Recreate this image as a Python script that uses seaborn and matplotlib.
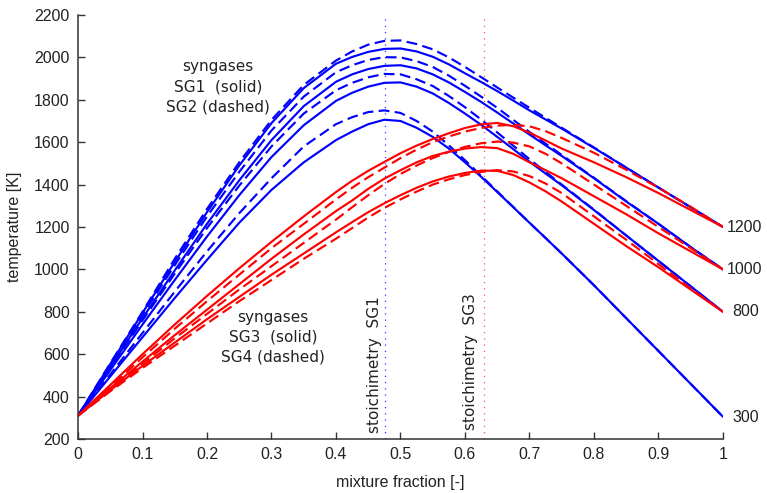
import matplotlib
matplotlib.use("Agg")
import matplotlib.pyplot as plt
import seaborn as sns
import pandas as pd

# ---------------- data ----------------
X = [0.0, 0.05, 0.1, 0.15, 0.2, 0.25, 0.3, 0.35, 0.4, 0.425, 0.45, 0.475, 0.5,
     0.525, 0.55, 0.575, 0.6, 0.625, 0.65, 0.675, 0.7, 0.725, 0.75,
     0.8, 0.85, 0.9, 0.95, 1.0]

# SG1 (blue solid) / SG2 (blue dashed), oxidizer temperatures 300, 800, 1000, 1200 K
SG1_300 = [310, 495, 680, 865, 1045, 1220, 1375, 1505, 1610, 1650, 1685, 1706, 1700,
           1668, 1625, 1570, 1505, 1437, 1365, 1293, 1220, 1148, 1075,
           925, 770, 615, 460, 305]
SG2_300 = [310, 505, 700, 895, 1085, 1265, 1430, 1580, 1685, 1718, 1742, 1750, 1738,
           1700, 1650, 1585, 1515, 1442, 1368, 1294, 1220, 1148, 1075,
           925, 770, 615, 460, 305]
SG1_800 = [310, 525, 740, 950, 1155, 1350, 1530, 1680, 1795, 1833, 1862, 1880, 1882,
           1862, 1830, 1785, 1735, 1682, 1625, 1567, 1508, 1452, 1397,
           1280, 1160, 1040, 920, 800]
SG2_800 = [310, 535, 760, 980, 1195, 1395, 1580, 1735, 1845, 1880, 1906, 1922, 1920,
           1897, 1865, 1818, 1765, 1707, 1646, 1583, 1520, 1460, 1400,
           1282, 1160, 1040, 920, 800]
SG1_1000 = [310, 540, 770, 995, 1215, 1420, 1610, 1770, 1885, 1920, 1945, 1960, 1963,
            1948, 1920, 1882, 1837, 1790, 1740, 1688, 1636, 1585, 1535,
            1430, 1320, 1215, 1105, 1000]
SG2_1000 = [310, 548, 785, 1020, 1250, 1460, 1655, 1815, 1930, 1963, 1988, 2001, 2000,
            1982, 1955, 1914, 1866, 1815, 1762, 1705, 1648, 1593, 1540,
            1432, 1322, 1215, 1105, 1000]
SG1_1200 = [310, 553, 795, 1035, 1270, 1490, 1690, 1855, 1970, 2002, 2026, 2040, 2042,
            2028, 2003, 1967, 1925, 1884, 1841, 1796, 1750, 1707, 1664,
            1573, 1480, 1386, 1293, 1200]
SG2_1200 = [310, 557, 800, 1050, 1285, 1505, 1705, 1870, 1985, 2028, 2060, 2078, 2080,
            2063, 2038, 2000, 1955, 1907, 1858, 1810, 1762, 1715, 1668,
            1575, 1480, 1386, 1293, 1200]

# SG3 (red solid) / SG4 (red dashed), oxidizer temperatures 800, 1000, 1200 K
SG3_800 = [310, 430, 545, 655, 765, 870, 975, 1075, 1175, 1223, 1270, 1312, 1350,
           1385, 1415, 1438, 1455, 1466, 1465, 1445, 1410, 1368, 1320,
           1215, 1110, 1010, 905, 800]
SG4_800 = [310, 425, 535, 640, 745, 850, 950, 1050, 1145, 1195, 1245, 1290, 1330,
           1367, 1400, 1425, 1445, 1460, 1468, 1462, 1440, 1405, 1360,
           1250, 1140, 1025, 910, 800]
SG3_1000 = [310, 440, 565, 690, 810, 930, 1050, 1165, 1275, 1325, 1380, 1428, 1468,
            1505, 1535, 1555, 1570, 1577, 1572, 1545, 1505, 1468, 1430,
            1345, 1260, 1170, 1085, 1000]
SG4_1000 = [310, 435, 555, 675, 790, 905, 1015, 1125, 1235, 1293, 1350, 1403, 1450,
            1490, 1525, 1555, 1578, 1595, 1603, 1598, 1580, 1545, 1500,
            1400, 1300, 1200, 1100, 1000]
SG3_1200 = [310, 455, 600, 740, 875, 1005, 1130, 1250, 1365, 1418, 1465, 1507, 1548,
            1584, 1615, 1642, 1667, 1684, 1691, 1675, 1645, 1608, 1570,
            1505, 1435, 1360, 1280, 1200]
SG4_1200 = [310, 445, 585, 720, 850, 975, 1100, 1215, 1330, 1385, 1435, 1480, 1525,
            1565, 1600, 1627, 1650, 1667, 1678, 1682, 1675, 1652, 1620,
            1550, 1470, 1385, 1295, 1200]

STOICH_SG1 = 0.476
STOICH_SG3 = 0.629
END_LABELS = ["1200", "1000", "800", "300"]
END_VALUES = [1200, 1000, 800, 300]
X_TICKS = [0, 0.1, 0.2, 0.3, 0.4, 0.5, 0.6, 0.7, 0.8, 0.9, 1]
X_TICKLABELS = ["0", "0.1", "0.2", "0.3", "0.4", "0.5", "0.6", "0.7", "0.8", "0.9", "1"]
Y_TICKS = [200, 400, 600, 800, 1000, 1200, 1400, 1600, 1800, 2000, 2200]

curves = {
    ("SG1", 300): SG1_300, ("SG2", 300): SG2_300,
    ("SG1", 800): SG1_800, ("SG2", 800): SG2_800,
    ("SG1", 1000): SG1_1000, ("SG2", 1000): SG2_1000,
    ("SG1", 1200): SG1_1200, ("SG2", 1200): SG2_1200,
    ("SG3", 800): SG3_800, ("SG4", 800): SG4_800,
    ("SG3", 1000): SG3_1000, ("SG4", 1000): SG4_1000,
    ("SG3", 1200): SG3_1200, ("SG4", 1200): SG4_1200,
}
rows = []
for (fuel, tox), ys in curves.items():
    for xv, yv in zip(X, ys):
        rows.append({"x": xv, "T": yv, "fuel": fuel, "Tox": tox})
df = pd.DataFrame(rows)

# ---------------- style ----------------
sns.set_theme(style="ticks")
plt.rcParams["font.family"] = ["Liberation Sans", "DejaVu Sans"]
TXT = "#222222"

fig = plt.figure(figsize=(7.67, 4.93), dpi=100)
ax = fig.add_axes([0.1017, 0.1095, 0.8409, 0.8601])

palette = {"SG1": "#0000ff", "SG2": "#0000ff", "SG3": "#ff0000", "SG4": "#ff0000"}
dashes = {"SG1": "", "SG2": (5, 2.5), "SG3": "", "SG4": (5, 2.5)}
sns.lineplot(data=df, x="x", y="T", hue="fuel", style="fuel", units="Tox",
             estimator=None, palette=palette, dashes=dashes, sort=False,
             hue_order=["SG1", "SG2", "SG3", "SG4"],
             legend=False, linewidth=1.55, ax=ax)

ax.axvline(STOICH_SG1, color="#3333ff", lw=0.9, ls=(0, (1, 4)), zorder=0)
ax.axvline(STOICH_SG3, color="#ff5555", lw=0.9, ls=(0, (1, 4)), zorder=0)

ax.set_xlim(0, 1)
ax.set_ylim(200, 2200)
ax.set_xticks(X_TICKS)
ax.set_xticklabels(X_TICKLABELS)
ax.set_yticks(Y_TICKS)
ax.tick_params(direction="in", length=5, width=1, colors="#333333",
               labelcolor=TXT, labelsize=11.5, pad=6)
sns.despine(ax=ax)
for s in ["left", "bottom"]:
    ax.spines[s].set_color("#333333")
    ax.spines[s].set_linewidth(1.1)

ax.set_xlabel("mixture fraction [-]", fontsize=11.5, color=TXT, labelpad=9)
ax.set_ylabel("temperature [K]", fontsize=11.5, color=TXT, labelpad=9)

# annotations
ann = ["DejaVu Sans"]
kw = dict(fontsize=11, color=TXT, ha="center", va="center", family=ann)
ax.text(0.217, 1955, "syngases", **kw)
ax.text(0.217, 1862, "SG1  (solid)", **kw)
ax.text(0.217, 1768, "SG2 (dashed)", **kw)
ax.text(0.302, 775, "syngases", **kw)
ax.text(0.302, 681, "SG3  (solid)", **kw)
ax.text(0.302, 587, "SG4 (dashed)", **kw)

ax.text(0.460, 228, "stoichimetry  SG1", rotation=90, fontsize=11,
        color=TXT, ha="center", va="bottom", family=ann)
ax.text(0.608, 243, "stoichimetry  SG3", rotation=90, fontsize=11,
        color=TXT, ha="center", va="bottom", family=ann)

for lab, val in zip(END_LABELS, END_VALUES):
    xoff = 1.006 if len(lab) == 4 else 1.015
    ax.text(xoff, val, lab, fontsize=11.5, color=TXT, ha="left",
            va="center", clip_on=False)

fig.savefig("out.png", dpi=100)
